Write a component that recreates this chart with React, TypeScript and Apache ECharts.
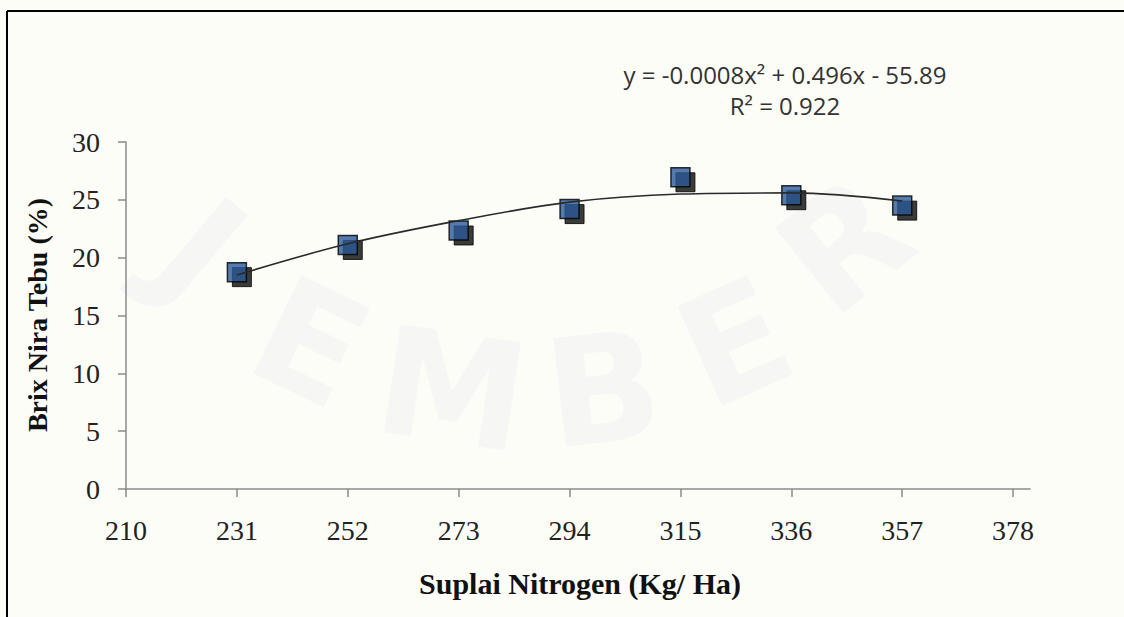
import React, { useEffect, useRef } from "react";
import * as echarts from "echarts";

const xTicks = [210, 231, 252, 273, 294, 315, 336, 357, 378];
const nitrogen = [231, 252, 273, 294, 315, 336, 357];
const brix = [18.75, 21.1, 22.35, 24.2, 26.95, 25.4, 24.5];
const trend = [18.5, 21.2, 23.2, 24.8, 25.5, 25.6, 24.9];
const equationLines = ["y = -0.0008x² + 0.496x - 55.89", "R² = 0.922"];
const xTitle = "Suplai Nitrogen (Kg/ Ha)";
const yTitle = "Brix Nira Tebu (%)";
const watermark = ["J", "E", "M", "B", "E", "R"];

export default function App() {
  const ref = useRef<HTMLDivElement>(null);
  useEffect(() => {
    if (!ref.current) return;
    const chart = echarts.init(ref.current, null, { renderer: "svg" });
    const serif = "'Liberation Serif', 'Times New Roman', serif";
    const wmPos = [
      [200, 250, -0.7],
      [310, 343, -0.45],
      [452, 390, -0.15],
      [603, 390, 0.12],
      [735, 343, 0.42],
      [845, 245, 0.68],
    ];
    chart.setOption({
      animation: false,
      backgroundColor: "#fdfdf8",
      grid: { left: 126, right: 94, top: 142, bottom: 128 },
      xAxis: {
        type: "value",
        min: 210,
        max: 381.2,
        interval: 21,
        splitLine: { show: false },
        axisLine: { show: true, lineStyle: { color: "#8a8a8a", width: 1.5 } },
        axisTick: { show: true, length: 8, customValues: xTicks, lineStyle: { color: "#8a8a8a", width: 1.5 } },
        axisLabel: {
          customValues: xTicks,
          margin: 27,
          fontFamily: serif,
          fontSize: 28,
          color: "#222",
        },
      },
      yAxis: {
        type: "value",
        min: 0,
        max: 30,
        interval: 5,
        splitLine: { show: false },
        axisLine: { show: true, lineStyle: { color: "#8a8a8a", width: 1.5 } },
        axisTick: { show: true, length: 8, lineStyle: { color: "#8a8a8a", width: 1.5 } },
        axisLabel: { margin: 26, fontFamily: serif, fontSize: 28, color: "#222" },
      },
      graphic: [
        ...watermark.map((ch, i) => ({
          type: "text",
          x: wmPos[i][0],
          y: wmPos[i][1],
          rotation: wmPos[i][2],
          z: -10,
          silent: true,
          style: {
            text: ch,
            fontFamily: "'DejaVu Sans', sans-serif",
            fontWeight: "bold",
            fontSize: 150,
            fill: "#f6f7f5",
            align: "center",
            verticalAlign: "middle",
          },
        })),
        {
          type: "line",
          shape: { x1: 7, y1: 11, x2: 1124, y2: 11 },
          style: { stroke: "#000", lineWidth: 2 },
        },
        {
          type: "line",
          shape: { x1: 7, y1: 11, x2: 7, y2: 617 },
          style: { stroke: "#000", lineWidth: 2 },
        },
        {
          type: "text",
          x: 785,
          y: 90,
          style: {
            text: equationLines.join("\n"),
            fontFamily: "'Open Sans', 'Liberation Sans', sans-serif",
            fontSize: 24,
            lineHeight: 31,
            fill: "#333",
            align: "center",
            verticalAlign: "middle",
          },
        },
        {
          type: "text",
          x: 580,
          y: 583,
          style: {
            text: xTitle,
            fontFamily: serif,
            fontWeight: "bold",
            fontSize: 30,
            fill: "#111",
            align: "center",
            verticalAlign: "middle",
          },
        },
        {
          type: "text",
          x: 37,
          y: 315,
          rotation: Math.PI / 2,
          style: {
            text: yTitle,
            fontFamily: serif,
            fontWeight: "bold",
            fontSize: 28,
            fill: "#111",
            align: "center",
            verticalAlign: "middle",
          },
        },
      ],
      series: [
        {
          type: "scatter",
          data: nitrogen.map((x, i) => [x, brix[i]]),
          symbol: "rect",
          symbolSize: 19,
          symbolOffset: [5, 5],
          itemStyle: { color: "#0a0a0a", borderColor: "#000", borderWidth: 1 },
          z: 2,
          silent: true,
        },
        {
          type: "scatter",
          data: nitrogen.map((x, i) => [x, brix[i]]),
          symbol: "rect",
          symbolSize: 19,
          itemStyle: { color: "#2b5a98", borderColor: "#000", borderWidth: 1.5 },
          z: 3,
          silent: true,
        },
        {
          type: "line",
          data: nitrogen.map((x, i) => [x, trend[i]]),
          smooth: 0.35,
          showSymbol: false,
          symbol: "none",
          lineStyle: { color: "#2a2a2a", width: 1.6 },
          z: 4,
          silent: true,
        },
      ],
    });
    return () => chart.dispose();
  }, []);
  return (
    <div
      ref={ref}
      style={{ position: "fixed", left: 0, top: 0, width: 1124, height: 617 }}
    />
  );
}
